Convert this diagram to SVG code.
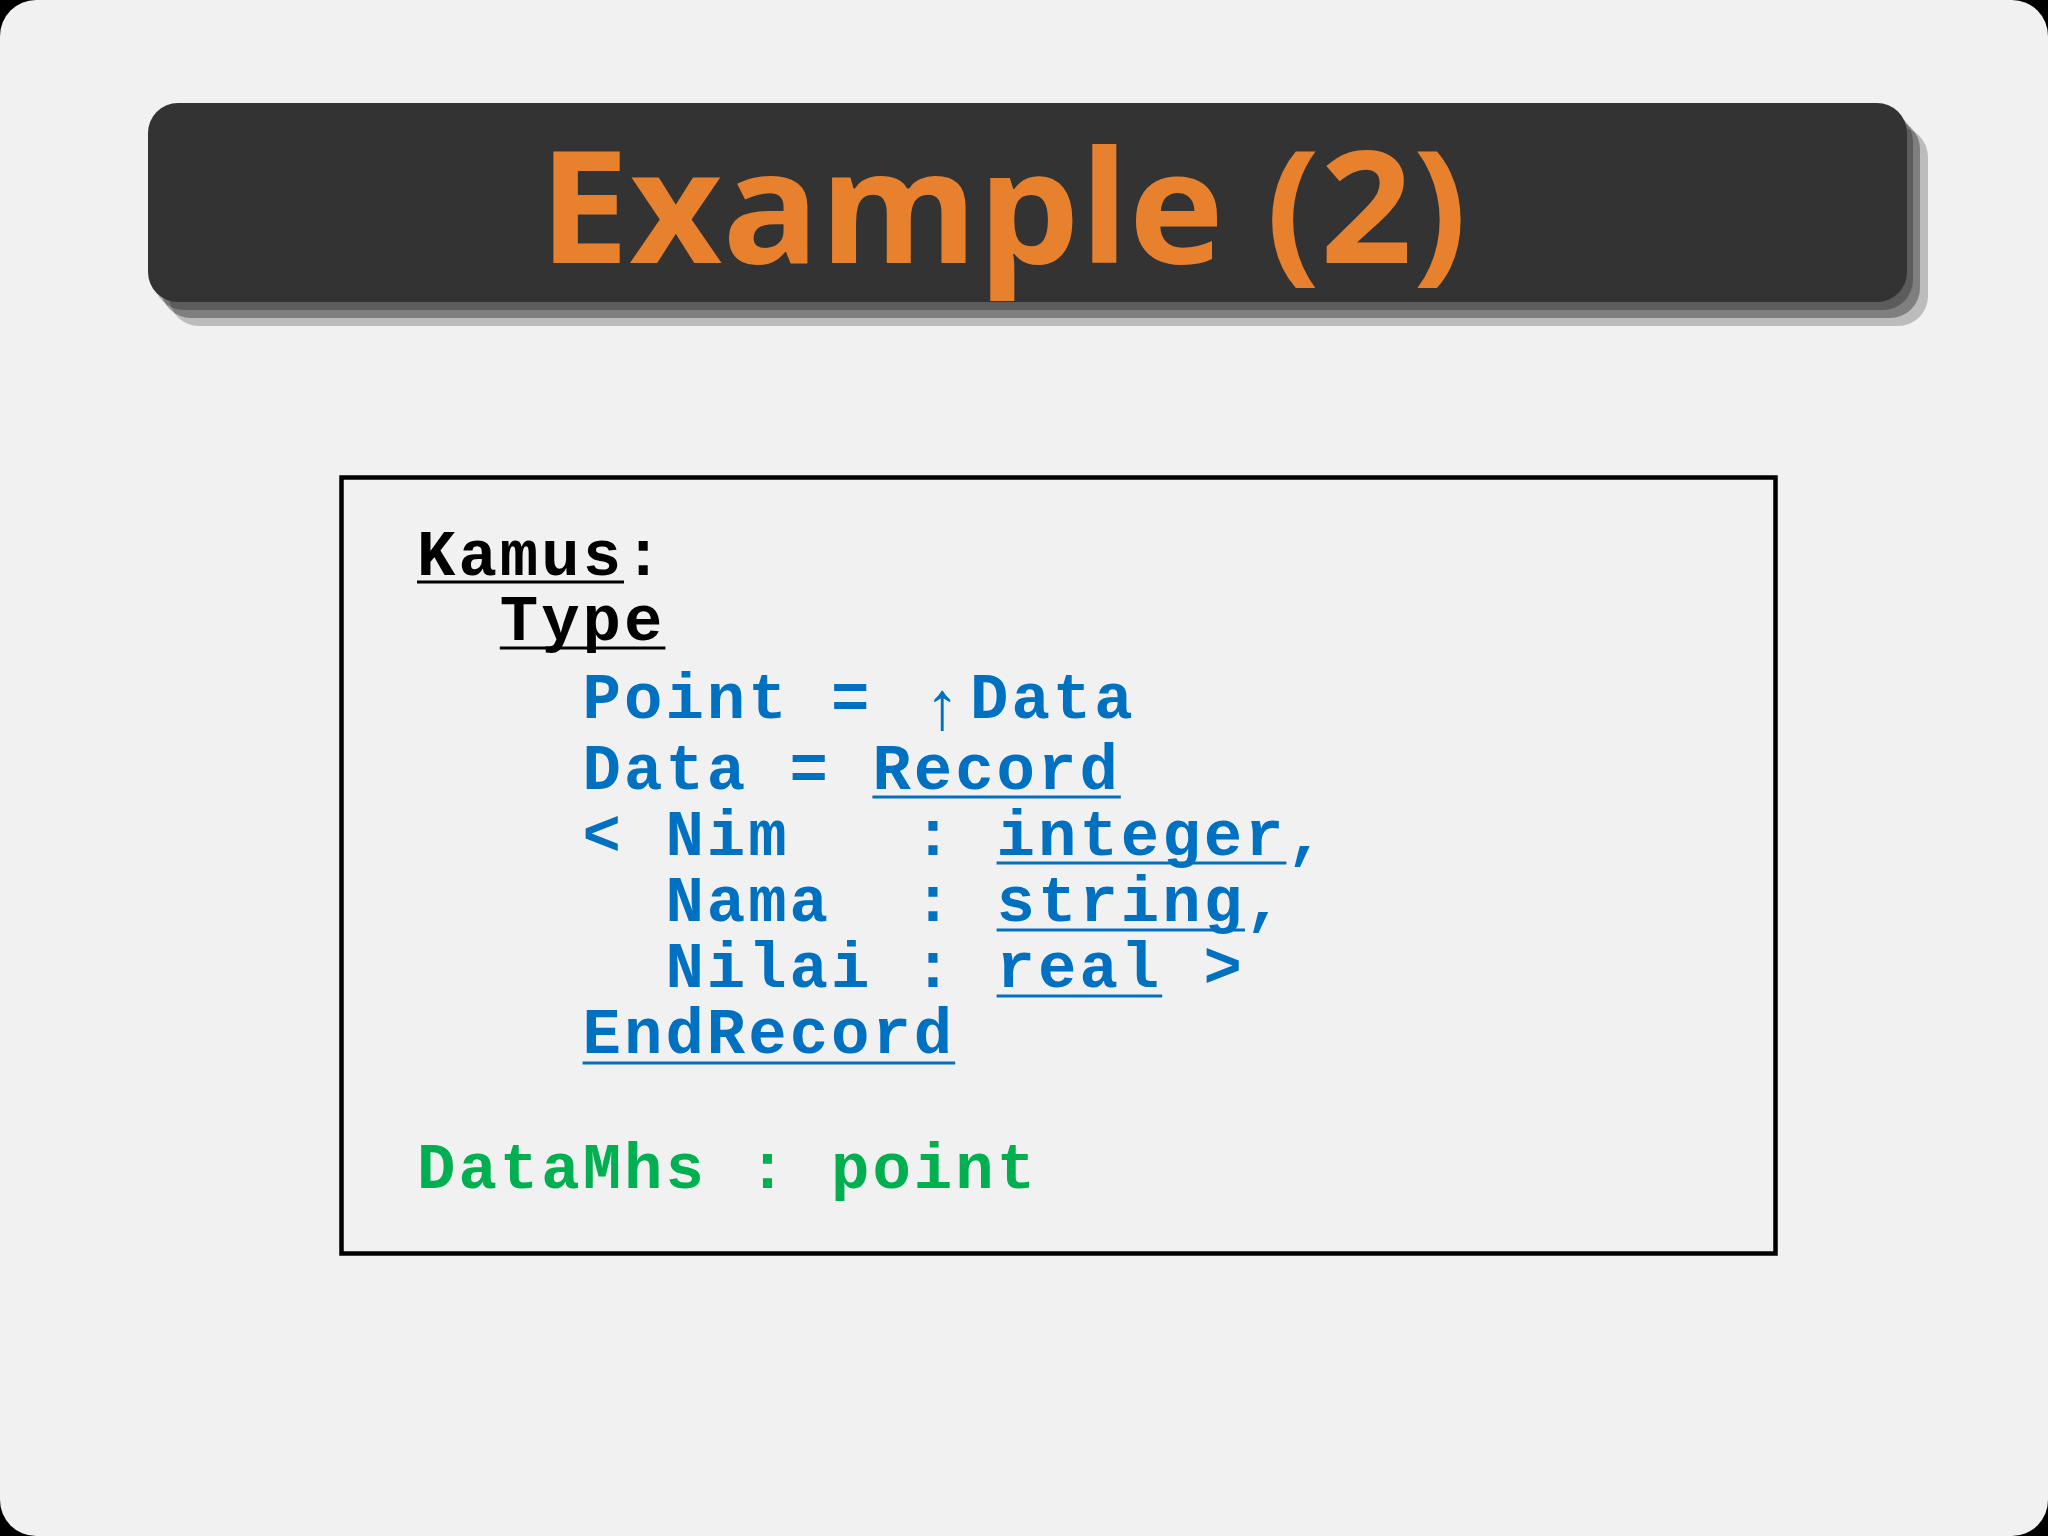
<svg xmlns="http://www.w3.org/2000/svg" width="2048" height="1536" viewBox="0 0 2048 1536">
  <style>
    .code { font-family: "Liberation Mono", "Courier New", monospace; font-weight: 700; font-size: 64px; letter-spacing: 3px; }
    .blk { fill: #000000; }
    .blu { fill: #0070C0; }
    .grn { fill: #00B050; }
    .ulk { stroke: #000000; stroke-width: 3; }
    .ulb { stroke: #0070C0; stroke-width: 3; }
    .shadow { fill: #000000; }
  </style>
  <rect x="0" y="0" width="2048" height="1536" fill="#000000"/>
  <rect x="0" y="0" width="2048" height="1536" rx="36" ry="36" fill="#F1F1F2"/>

  <g id="title">
    <rect class="shadow" x="169" y="127" width="1759" height="199" rx="30" opacity="0.22"/>
    <rect class="shadow" x="161" y="119" width="1759" height="199" rx="30" opacity="0.325"/>
    <rect class="shadow" x="154" y="111" width="1759" height="199" rx="30" opacity="0.276"/>
    <rect x="148" y="103" width="1759" height="199" rx="30" fill="#333333"/>
    <text x="539" y="263" textLength="928" lengthAdjust="spacingAndGlyphs" font-family="'Open Sans', 'DejaVu Sans', sans-serif" font-weight="700" font-size="157" fill="#E8812E">Example (2)</text>
  </g>

  <g id="code-box">
    <rect x="341.5" y="477.5" width="1434" height="776" fill="none" stroke="#000000" stroke-width="4.5"/>

    <g id="kamus">
      <text class="code blk" y="575"><tspan x="417">Kamus</tspan><tspan x="624">:</tspan></text>
      <line class="ulk" x1="417" y1="582" x2="624" y2="582"/>
      <text class="code blk" x="499.8" y="640">Type</text>
      <line class="ulk" x1="499.8" y1="648" x2="665.4" y2="648"/>
    </g>

    <g id="type-defs">
      <text class="code blu" y="718"><tspan x="582.6">Point</tspan><tspan x="831">=</tspan><tspan x="970">Data</tspan></text>
      <text x="942" y="729" text-anchor="middle" font-family="'Liberation Sans', 'DejaVu Sans', sans-serif" font-size="68" fill="#0070C0">↑</text>

      <text class="code blu" y="789"><tspan x="582.6">Data</tspan><tspan x="789.6">=</tspan><tspan x="872.4">Record</tspan></text>
      <line class="ulb" x1="872.4" y1="797" x2="1120.8" y2="797"/>

      <text class="code blu" y="855"><tspan x="582.6">&lt;</tspan><tspan x="665.4">Nim</tspan><tspan x="913.8">:</tspan><tspan x="996.6">integer</tspan><tspan x="1286.4">,</tspan></text>
      <line class="ulb" x1="996.6" y1="863" x2="1286.4" y2="863"/>

      <text class="code blu" y="921"><tspan x="665.4">Nama</tspan><tspan x="913.8">:</tspan><tspan x="996.6">string</tspan><tspan x="1245">,</tspan></text>
      <line class="ulb" x1="996.6" y1="930" x2="1245" y2="930"/>

      <text class="code blu" y="987"><tspan x="665.4">Nilai</tspan><tspan x="913.8">:</tspan><tspan x="996.6">real</tspan><tspan x="1203.6">&gt;</tspan></text>
      <line class="ulb" x1="996.6" y1="996" x2="1162.2" y2="996"/>

      <text class="code blu" x="582.6" y="1053">EndRecord</text>
      <line class="ulb" x1="582.6" y1="1063" x2="955.2" y2="1063"/>
    </g>

    <g id="var-decl">
      <text class="code grn" y="1188"><tspan x="417">DataMhs</tspan><tspan x="748.2">:</tspan><tspan x="831">point</tspan></text>
    </g>
  </g>
</svg>
